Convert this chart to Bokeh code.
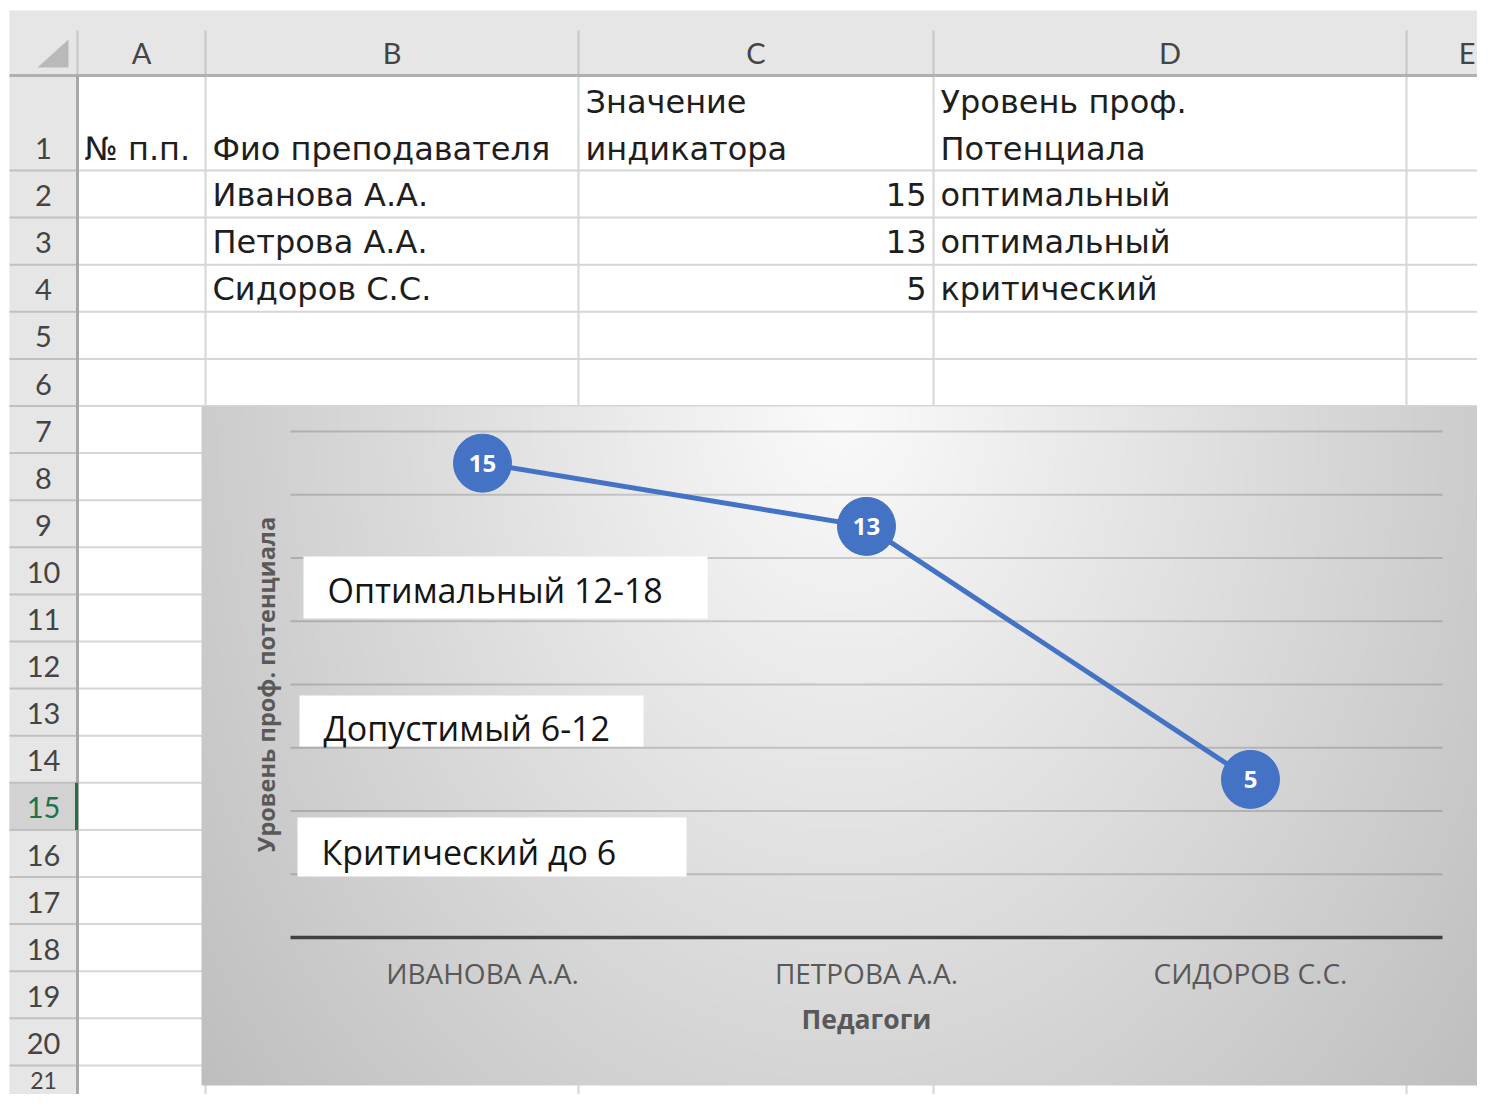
import numpy as np
from bokeh.plotting import figure
from bokeh.models import Range1d, ColumnDataSource
from bokeh.core.properties import value
from bokeh.embed import file_html
from bokeh.resources import INLINE

# ---------------- data ----------------
teachers = ["Иванова А.А.", "Петрова А.А.", "Сидоров С.С."]
indicator = [15, 13, 5]
levels = ["оптимальный", "оптимальный", "критический"]
header_line1 = ["", "", "Значение", "Уровень проф."]
header_line2 = ["№ п.п.", "Фио преподавателя", "индикатора", "Потенциала"]
column_letters = ["A", "B", "C", "D", "E"]
row_numbers = [str(i) for i in range(1, 22)]
category_labels = [t.upper() for t in teachers]
zone_labels = ["Оптимальный 12-18", "Допустимый 6-12", "Критический до 6"]
y_gridlines = [2, 4, 6, 8, 10, 12, 14, 16]
y_max = 16
x_title = "Педагоги"
y_title = "Уровень проф. потенциала"

# ---------------- layout (picture pixels) ----------------
W, H = 1477, 1094
OX, OY = 0, 0
COL_EDGES = [9, 77, 205, 578, 933, 1406, 1574]
HEAD_TOP, HEAD_BOT = 10, 75
ROW1_BOT, ROW_H = 170, 47.1
row_edges = [HEAD_BOT, ROW1_BOT] + [ROW1_BOT + ROW_H * k for k in range(1, 21)]
SEL_ROW = 15

CH_L, CH_T, CH_R, CH_B = 201, 406, 1484, 1085      # chart object
PLOT_L, PLOT_R = 290, 1442                          # plot area
Y0_PX, YTOP_PX = 937, 431
BAND = (PLOT_R - PLOT_L) / len(teachers)
UNIT = (Y0_PX - YTOP_PX) / y_max

BOXES = [(303, 556, 707, 618), (299, 695, 643, 746), (297, 817, 686, 876)]
BOX_TEXT_X = [327, 323, 321]
BOX_TEXT_Y = [589, 727, 851]


def cxv(px):
    return -0.5 + (px - PLOT_L) / BAND


def cyv(py):
    return (Y0_PX - py) / UNIT


p = figure(width=W, height=H,
           x_range=Range1d(OX, OX + W), y_range=Range1d(OY + H, OY),
           toolbar_location=None, output_backend="svg", min_border=0,
           x_axis_type=None, y_axis_type=None,
           background_fill_color="white", border_fill_color="white",
           outline_line_color=None)
p.extra_x_ranges = {"cx": Range1d(cxv(OX), cxv(OX + W))}
p.extra_y_ranges = {"cy": Range1d(cyv(OY + H), cyv(OY))}

SHEET_FONT = value("DejaVu Sans")
HEAD_FONT = value("Lato")
CHART_FONT = value("Open Sans")

# ---------------- spreadsheet ----------------
p.quad(left=[COL_EDGES[0], COL_EDGES[0]], right=[COL_EDGES[-1], COL_EDGES[1]],
       top=[HEAD_TOP, HEAD_BOT], bottom=[HEAD_BOT, row_edges[-1]],
       fill_color="#e6e6e6", line_color=None)
p.quad(left=[COL_EDGES[0]], right=[COL_EDGES[1]],
       top=[row_edges[SEL_ROW - 1]], bottom=[row_edges[SEL_ROW]],
       fill_color="#d2d2d2", line_color=None)

vx = COL_EDGES[2:6]
p.segment(x0=vx, x1=vx, y0=[HEAD_BOT] * len(vx), y1=[row_edges[-1]] * len(vx),
          line_color="#d6d6d6", line_width=2)
hy = row_edges[1:]
p.segment(x0=[COL_EDGES[1]] * len(hy), x1=[COL_EDGES[-1]] * len(hy), y0=hy, y1=hy,
          line_color="#d6d6d6", line_width=2)
p.segment(x0=[COL_EDGES[0]] * len(hy), x1=[COL_EDGES[1]] * len(hy), y0=hy, y1=hy,
          line_color="#c0c0c0", line_width=2)
hx = COL_EDGES[1:6]
p.segment(x0=hx, x1=hx, y0=[30] * len(hx), y1=[HEAD_BOT] * len(hx),
          line_color="#c6c6c6", line_width=2)
p.segment(x0=[COL_EDGES[0]], x1=[COL_EDGES[-1]], y0=[HEAD_BOT], y1=[HEAD_BOT],
          line_color="#b0b0b0", line_width=3)
p.segment(x0=[COL_EDGES[1]], x1=[COL_EDGES[1]], y0=[HEAD_BOT], y1=[row_edges[-1]],
          line_color="#a8a8a8", line_width=3)
p.segment(x0=[COL_EDGES[1] - 1], x1=[COL_EDGES[1] - 1],
          y0=[row_edges[SEL_ROW - 1]], y1=[row_edges[SEL_ROW]],
          line_color="#217346", line_width=3)
p.patch(x=[68, 68, 37], y=[39, 67, 67], fill_color="#b9b9b9", line_color=None)

# column letters (the last one sits at the right edge of the view)
col_centers = [(COL_EDGES[i + 1] + COL_EDGES[i + 2]) / 2 for i in range(len(column_letters) - 1)]
p.text(x=col_centers, y=[52] * len(col_centers), text=column_letters[:-1],
       text_font=HEAD_FONT, text_font_size="29px", text_color="#444444",
       text_align="center", text_baseline="middle")
p.text(x=[OX + W - 2], y=[52], text=column_letters[-1:],
       text_font=HEAD_FONT, text_font_size="29px", text_color="#444444",
       text_align="right", text_baseline="middle")
# row numbers; the last, partly hidden row gets a smaller label kept inside the view
row_label_y = [row_edges[i + 1] - 22 for i in range(len(row_numbers) - 1)]
row_colors = ["#217346" if i + 1 == SEL_ROW else "#444444" for i in range(len(row_numbers) - 1)]
p.text(x=[43] * len(row_label_y), y=row_label_y, text=row_numbers[:-1],
       text_font=HEAD_FONT, text_font_size="29px", text_color=row_colors,
       text_align="center", text_baseline="middle")
p.text(x=[43], y=[(row_edges[-2] + OY + H) / 2 + 1], text=row_numbers[-1:],
       text_font=HEAD_FONT, text_font_size="23px", text_color="#444444",
       text_align="center", text_baseline="middle")

cell_left = [COL_EDGES[i + 1] + 7 for i in range(4)]
p.text(x=cell_left, y=[ROW1_BOT - 22 - 47] * 4, text=header_line1,
       text_font=SHEET_FONT, text_font_size="32px", text_color="#1e1e1e",
       text_baseline="middle")
p.text(x=cell_left, y=[ROW1_BOT - 22] * 4, text=header_line2,
       text_font=SHEET_FONT, text_font_size="32px", text_color="#1e1e1e",
       text_baseline="middle")
data_y = [row_edges[2 + i] - 23 for i in range(len(teachers))]
p.text(x=[cell_left[1]] * len(teachers), y=data_y, text=teachers,
       text_font=SHEET_FONT, text_font_size="32px", text_color="#1e1e1e",
       text_baseline="middle")
p.text(x=[COL_EDGES[4] - 7] * len(teachers), y=data_y, text=[str(v) for v in indicator],
       text_font=SHEET_FONT, text_font_size="32px", text_color="#1e1e1e",
       text_align="right", text_baseline="middle")
p.text(x=[cell_left[3]] * len(teachers), y=data_y, text=levels,
       text_font=SHEET_FONT, text_font_size="32px", text_color="#1e1e1e",
       text_baseline="middle")

# ---------------- chart ----------------
nx, ny = 428, 227
gx = np.linspace(CH_L, CH_R, nx)
gy = np.linspace(CH_B, CH_T, ny)          # row 0 = bottom
GX, GY = np.meshgrid(gx, gy)
r = np.sqrt(((GX - 842) / 640.0) ** 2 + ((GY - 395) / 850.0) ** 2)
g = np.clip(251 - 47 * r, 180, 252).astype(np.uint8)
img = np.empty((ny, nx), dtype=np.uint32)
view = img.view(dtype=np.uint8).reshape((ny, nx, 4))
view[..., 0] = g
view[..., 1] = g
view[..., 2] = g
view[..., 3] = 255
p.image_rgba(image=[img], x=[cxv(CH_L)], y=[cyv(CH_B)],
             dw=[cxv(CH_R) - cxv(CH_L)], dh=[cyv(CH_T) - cyv(CH_B)],
             x_range_name="cx", y_range_name="cy")

n = len(teachers)
idx = list(range(n))
x_lo, x_hi = -0.5, n - 0.5

p.segment(x0=[x_lo] * len(y_gridlines), x1=[x_hi] * len(y_gridlines),
          y0=y_gridlines, y1=y_gridlines, line_color="black", line_alpha=0.16,
          line_width=2, x_range_name="cx", y_range_name="cy")
p.segment(x0=[x_lo], x1=[x_hi], y0=[0], y1=[0], line_color="#404040", line_width=3.5,
          x_range_name="cx", y_range_name="cy")

p.quad(left=[b[0] for b in BOXES], right=[b[2] for b in BOXES],
       top=[b[1] for b in BOXES], bottom=[b[3] for b in BOXES],
       fill_color="white", line_color=None)
p.text(x=BOX_TEXT_X, y=BOX_TEXT_Y, text=zone_labels,
       text_font=CHART_FONT, text_font_size="34px", text_color="#151515",
       text_baseline="middle")

src = ColumnDataSource(dict(x=idx, y=indicator, lbl=[str(v) for v in indicator]))
p.line(x="x", y="y", source=src, line_color="#4472C4", line_width=5,
       x_range_name="cx", y_range_name="cy")
p.scatter(x="x", y="y", source=src, size=58, fill_color="#4472C4", line_color="#4472C4",
          x_range_name="cx", y_range_name="cy")
p.text(x="x", y="y", text="lbl", source=src, text_color="white",
       text_font=CHART_FONT, text_font_style="bold", text_font_size="24px",
       text_align="center", text_baseline="middle",
       x_range_name="cx", y_range_name="cy")

p.text(x=idx, y=[0] * n, y_offset=35, text=category_labels,
       text_font=CHART_FONT, text_font_size="28px", text_color="#595959",
       text_align="center", text_baseline="middle",
       x_range_name="cx", y_range_name="cy")
p.text(x=[(n - 1) / 2], y=[0], y_offset=81, text=[x_title],
       text_font=CHART_FONT, text_font_style="bold", text_font_size="26.5px",
       text_color="#595959", text_align="center", text_baseline="middle",
       x_range_name="cx", y_range_name="cy")
p.text(x=[x_lo], x_offset=-25, y=[y_max / 2], text=[y_title], angle=np.pi / 2,
       text_font=CHART_FONT, text_font_style="bold", text_font_size="23.5px",
       text_color="#595959", text_align="center", text_baseline="middle",
       x_range_name="cx", y_range_name="cy")

with open("out.html", "w", encoding="utf-8") as f:
    f.write(file_html(p, INLINE))
